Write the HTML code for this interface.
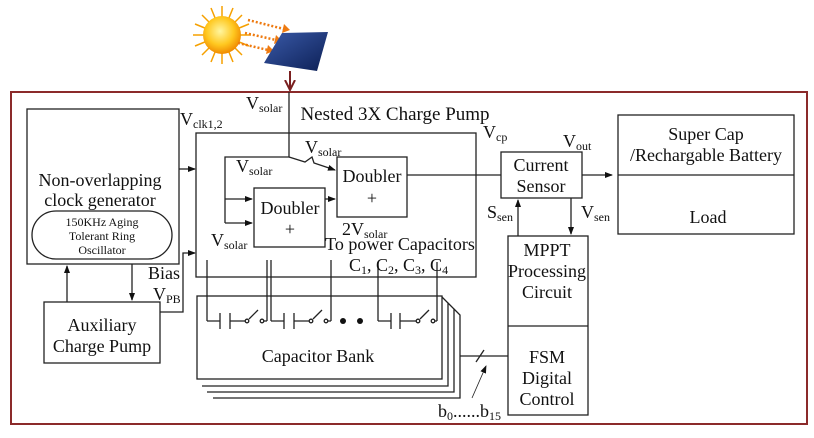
<!DOCTYPE html>
<html><head><meta charset="utf-8"><style>
html,body{margin:0;padding:0;background:#fff;}
svg{display:block;}
text{font-family:"Liberation Serif",serif;fill:#111;}
</style></head><body>
<svg width="814" height="438" viewBox="0 0 814 438" xmlns="http://www.w3.org/2000/svg">
<defs>
<marker id="a" markerWidth="8" markerHeight="8" refX="7" refY="4" orient="auto" markerUnits="userSpaceOnUse"><path d="M0,1 L8,4 L0,7 Z" fill="#111"/></marker>
<marker id="r" markerWidth="12" markerHeight="12" refX="10" refY="6" orient="auto" markerUnits="userSpaceOnUse"><path d="M0,1 L10,6 L0,11" fill="none" stroke="#7a2020" stroke-width="2"/></marker>
<radialGradient id="sun" cx="0.45" cy="0.4" r="0.6"><stop offset="0" stop-color="#fff6a0"/><stop offset="0.6" stop-color="#ffc820"/><stop offset="1" stop-color="#f08a00"/></radialGradient>
<linearGradient id="pv" x1="0" y1="0" x2="1" y2="1"><stop offset="0" stop-color="#3a5aa8"/><stop offset="1" stop-color="#0c1f55"/></linearGradient>
</defs>
<g stroke="#f5a000" stroke-width="1.5">
<line x1="222" y1="6" x2="222" y2="64"/><line x1="193" y1="35" x2="251" y2="35"/>
<line x1="202" y1="15" x2="242" y2="55"/><line x1="242" y1="15" x2="202" y2="55"/>
<line x1="211" y1="8" x2="233" y2="62"/><line x1="233" y1="8" x2="211" y2="62"/>
<line x1="195" y1="24" x2="249" y2="46"/><line x1="195" y1="46" x2="249" y2="24"/>
</g>
<circle cx="222" cy="35" r="19" fill="url(#sun)"/>
<g stroke="#ee7a10" stroke-width="2.5" stroke-dasharray="2,2" fill="none">
<line x1="248" y1="20" x2="284" y2="29"/><line x1="245" y1="33" x2="276" y2="40"/><line x1="238" y1="43" x2="268" y2="50"/>
</g>
<g fill="#ee7a10"><path d="M284,24 L290,30 L282,33Z"/><path d="M276,35 L282,41 L274,44Z"/><path d="M268,45 L274,51 L266,54Z"/></g>
<path d="M282,33 L328,32 L317,71 L264,63 Z" fill="url(#pv)"/>
<line x1="290" y1="71" x2="290" y2="90" stroke="#7a2020" stroke-width="2" marker-end="url(#r)"/>
<rect x="11" y="92" width="796" height="332" fill="none" stroke="#8b2a2a" stroke-width="2"/>
<g fill="none" stroke="#222" stroke-width="1.3">
<rect x="27" y="109" width="152" height="155"/>
<rect x="32" y="211" width="140" height="48" rx="24"/>
<rect x="44" y="302" width="116" height="61"/>
<line x1="67" y1="302" x2="67" y2="266" marker-end="url(#a)"/>
<line x1="132" y1="264" x2="132" y2="300" marker-end="url(#a)"/>
<line x1="179" y1="169" x2="195" y2="169" marker-end="url(#a)"/>
<polyline points="160,312 183,312 183,253 195,253" marker-end="url(#a)"/>
<rect x="196" y="133" width="280" height="144"/>
<polyline points="289,92 289,157 225,157 225,223"/>
<polyline points="289,157 305,162 312,157 314,163 335,170" marker-end="url(#a)"/>
<line x1="225" y1="199" x2="252" y2="199" marker-end="url(#a)"/>
<line x1="225" y1="223" x2="252" y2="223" marker-end="url(#a)"/>
<rect x="254" y="188" width="71" height="59"/>
<line x1="325" y1="199" x2="335" y2="199" marker-end="url(#a)"/>
<rect x="337" y="157" width="70" height="60"/>
<line x1="407" y1="175" x2="501" y2="175"/>
<polyline points="213,398 460,398 460,315 454,309"/>
<polyline points="207,392 454,392 454,309 448,303"/>
<polyline points="202,386 448,386 448,303 442,297"/>
<rect x="197" y="296" width="245" height="83" fill="#fff"/>
<line x1="207" y1="260" x2="207" y2="321"/><line x1="267" y1="260" x2="267" y2="321"/>
<line x1="271" y1="260" x2="271" y2="321"/><line x1="331" y1="260" x2="331" y2="321"/>
<line x1="378" y1="262" x2="378" y2="321"/><line x1="437" y1="262" x2="437" y2="321"/>
<path d="M207,321 H220 M220,313 V329 M230,313 V329 M230,321 H245 M249,319 L258,310 M264,321 H267"/>
<circle cx="247" cy="321" r="1.8"/><circle cx="262" cy="321" r="1.8"/>
<path d="M271,321 H284 M284,313 V329 M294,313 V329 M294,321 H309 M313,319 L322,310 M328,321 H331"/>
<circle cx="311" cy="321" r="1.8"/><circle cx="326" cy="321" r="1.8"/>
<path d="M378,321 H391 M391,313 V329 M400,313 V329 M400,321 H416 M420,319 L429,310 M435,321 H437"/>
<circle cx="418" cy="321" r="1.8"/><circle cx="433" cy="321" r="1.8"/>
<line x1="460" y1="356" x2="508" y2="356"/>
<line x1="476" y1="362" x2="484" y2="350"/>
<line x1="472" y1="398" x2="486" y2="366" stroke-width="0.8" marker-end="url(#a)"/>
<rect x="508" y="236" width="80" height="179"/>
<line x1="508" y1="326" x2="588" y2="326"/>
<rect x="501" y="152" width="81" height="46"/>
<line x1="582" y1="175" x2="612" y2="175" marker-end="url(#a)"/>
<rect x="618" y="115" width="176" height="119"/>
<line x1="618" y1="175" x2="794" y2="175"/>
<line x1="518" y1="236" x2="518" y2="200" marker-end="url(#a)"/>
<line x1="571" y1="198" x2="571" y2="234" marker-end="url(#a)"/>
</g>
<circle cx="343" cy="321" r="3" fill="#111"/><circle cx="360" cy="321" r="3" fill="#111"/>
<g font-size="18" text-anchor="middle">
<text x="100" y="186">Non-overlapping</text>
<text x="100" y="206">clock generator</text>
<text x="102" y="331">Auxiliary</text>
<text x="102" y="352">Charge Pump</text>
<text x="290" y="214">Doubler</text><text x="290" y="235">+</text>
<text x="372" y="182">Doubler</text><text x="372" y="204">+</text>
<text x="318" y="362">Capacitor Bank</text>
<text x="541" y="171">Current</text><text x="541" y="192">Sensor</text>
<text x="547" y="256">MPPT</text><text x="547" y="277">Processing</text><text x="547" y="298">Circuit</text>
<text x="547" y="363">FSM</text><text x="547" y="384">Digital</text><text x="547" y="405">Control</text>
<text x="706" y="140">Super Cap</text><text x="706" y="161">/Rechargable Battery</text>
<text x="708" y="223">Load</text>
<text x="395" y="120" font-size="19">Nested 3X Charge Pump</text>
<text x="400" y="250">To power Capacitors</text>
</g>
<g font-size="12" text-anchor="middle">
<text x="102" y="226">150KHz Aging</text><text x="102" y="240">Tolerant Ring</text><text x="102" y="254">Oscillator</text>
</g>
<g font-size="18">
<text x="246" y="109">V<tspan font-size="12" dy="3">solar</tspan></text>
<text x="180" y="125">V<tspan font-size="12" dy="3">clk1,2</tspan></text>
<text x="305" y="153">V<tspan font-size="12" dy="3">solar</tspan></text>
<text x="236" y="172">V<tspan font-size="12" dy="3">solar</tspan></text>
<text x="211" y="246">V<tspan font-size="12" dy="3">solar</tspan></text>
<text x="342" y="235">2V<tspan font-size="12" dy="3">solar</tspan></text>
<text x="349" y="271">C<tspan font-size="12" dy="3">1</tspan><tspan dy="-3">, C</tspan><tspan font-size="12" dy="3">2</tspan><tspan dy="-3">, C</tspan><tspan font-size="12" dy="3">3</tspan><tspan dy="-3">, C</tspan><tspan font-size="12" dy="3">4</tspan></text>
<text x="148" y="279">Bias</text>
<text x="153" y="300">V<tspan font-size="12" dy="3">PB</tspan></text>
<text x="483" y="138">V<tspan font-size="12" dy="3">cp</tspan></text>
<text x="563" y="147">V<tspan font-size="12" dy="3">out</tspan></text>
<text x="487" y="218">S<tspan font-size="12" dy="3">sen</tspan></text>
<text x="581" y="218">V<tspan font-size="12" dy="3">sen</tspan></text>
<text x="438" y="417">b<tspan font-size="12" dy="3">0</tspan><tspan dy="-3">......b</tspan><tspan font-size="12" dy="3">15</tspan></text>
</g>
</svg>
</body></html>
